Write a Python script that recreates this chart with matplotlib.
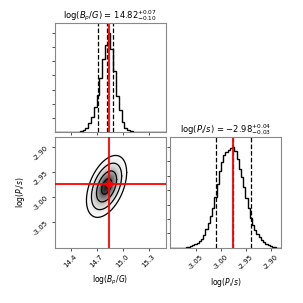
import numpy as np
import matplotlib
matplotlib.use("Agg")
import matplotlib.pyplot as plt

# Data
b_range = (14.22, 15.50)
p_range = (-3.102, -2.880)

# marginal histogram for log(B_p/G), 40 bins, relative heights
b_hist = [0, 0, 0, 0, 0, 0, 0, 0, 0.005, 0.01,
          0.02, 0.04, 0.09, 0.15, 0.25, 0.37, 0.55, 0.74, 0.88, 1.0,
          0.84, 0.62, 0.36, 0.22, 0.10, 0.045, 0.02, 0.007, 0, 0,
          0, 0, 0, 0, 0, 0, 0, 0, 0, 0]

# marginal histogram for log(P_i/s), 50 bins, relative heights
p_hist = [0, 0, 0, 0, 0, 0, 0.003, 0.006, 0.01, 0.02,
          0.03, 0.04, 0.05, 0.07, 0.09, 0.13, 0.19, 0.25, 0.32, 0.40,
          0.50, 0.63, 0.76, 0.85, 0.92, 0.95, 0.97, 0.99, 1.0, 0.96,
          0.88, 0.78, 0.70, 0.60, 0.49, 0.40, 0.30, 0.23, 0.18, 0.14,
          0.11, 0.08, 0.06, 0.04, 0.03, 0.02, 0.012, 0.006, 0.003, 0]

# quantiles (16, 50, 84 %) and truth values
b_q = [14.72, 14.82, 14.89]
p_q = [-3.01, -2.976, -2.94]
b_true = 14.838
p_true = -2.975

# 2D posterior summary (ellipse centre, widths, correlation)
mean_2d = [14.815, -2.979]
sig_b, sig_p, rho = 0.116, 0.031, 0.45
contour_levels = [0.5, 1.0, 1.5, 2.0]

b_ticks = [14.4, 14.7, 15.0, 15.3]
p_ticks = [-3.05, -3.00, -2.95, -2.90]
b_label = r"$\log(B_p/G)$"
p_label = r"$\log(P_i/s)$"

fig = plt.figure(figsize=(3.03, 3.03), dpi=100)
ax_b = fig.add_axes([0.1815, 0.564, 0.366, 0.360])
ax_2d = fig.add_axes([0.1815, 0.182, 0.366, 0.366])
ax_p = fig.add_axes([0.561, 0.182, 0.366, 0.366])

spine_col = "#888888"
for ax in (ax_b, ax_2d, ax_p):
    for s in ax.spines.values():
        s.set_color(spine_col)
    ax.tick_params(labelsize=5, length=2.5, width=0.6, color="#333333", pad=1.5)


def draw_hist(ax, heights, rng, q, truth, ticks):
    edges = np.linspace(rng[0], rng[1], len(heights) + 1)
    ax.stairs(heights, edges, color="k", lw=1.0)
    for v in q:
        ax.axvline(v, color="k", ls="--", lw=0.9)
    ax.axvline(truth, color="red", lw=1.3)
    ax.set_xlim(rng)
    ax.set_ylim(0, 1.1 * max(heights))
    ax.set_xticks(ticks)
    ax.set_yticks(np.linspace(0, 1.0, 8)[1:] * max(heights))
    ax.set_yticklabels([])


def title(label, q):
    lo = q[1] - q[0]
    hi = q[2] - q[1]
    return label + r" = ${0:.2f}_{{-{1:.2f}}}^{{+{2:.2f}}}$".format(q[1], lo, hi)


draw_hist(ax_b, b_hist, b_range, b_q, b_true, b_ticks)
ax_b.set_xticklabels([])
ax_b.set_title(title(b_label, b_q), fontsize=6, pad=3)

draw_hist(ax_p, p_hist, p_range, p_q, p_true, p_ticks)
ax_p.set_xticklabels(["%.2f" % t for t in p_ticks], rotation=45)
ax_p.set_xlabel(p_label, fontsize=5.5, labelpad=4)
ax_p.set_title(title(p_label, p_q), fontsize=6, pad=3)

# 2D panel: shaded density + contour ellipses
t = np.linspace(0, 2 * np.pi, 200)
cov = np.array([[sig_b ** 2, rho * sig_b * sig_p],
                [rho * sig_b * sig_p, sig_p ** 2]])
L = np.linalg.cholesky(cov)
circle = np.vstack([np.cos(t), np.sin(t)])
for r in np.linspace(2.15, 0.05, 70):
    pts = r * (L @ circle)
    shade = 1 - 0.88 * np.exp(-0.5 * r ** 2) ** 2
    ax_2d.fill(mean_2d[0] + pts[0], mean_2d[1] + pts[1],
               color=str(round(shade, 3)), lw=0, zorder=1)
for r in contour_levels:
    pts = r * (L @ circle)
    ax_2d.plot(mean_2d[0] + pts[0], mean_2d[1] + pts[1], color="k", lw=0.9, zorder=2)

ax_2d.axvline(b_true, color="red", lw=1.3, zorder=3)
ax_2d.axhline(p_true, color="red", lw=1.3, zorder=3)
ax_2d.plot(b_true, p_true, "o", color="red", ms=4, zorder=4)

ax_2d.set_xlim(b_range)
ax_2d.set_ylim(p_range)
ax_2d.set_xticks(b_ticks)
ax_2d.set_yticks(p_ticks)
ax_2d.set_xticklabels(["%.1f" % t for t in b_ticks], rotation=45)
ax_2d.set_yticklabels(["%.2f" % t for t in p_ticks], rotation=45)
ax_2d.set_xlabel(b_label, fontsize=5.5, labelpad=4)
ax_2d.set_ylabel(p_label, fontsize=5.5, labelpad=4)

fig.savefig("out.png", dpi=100)
